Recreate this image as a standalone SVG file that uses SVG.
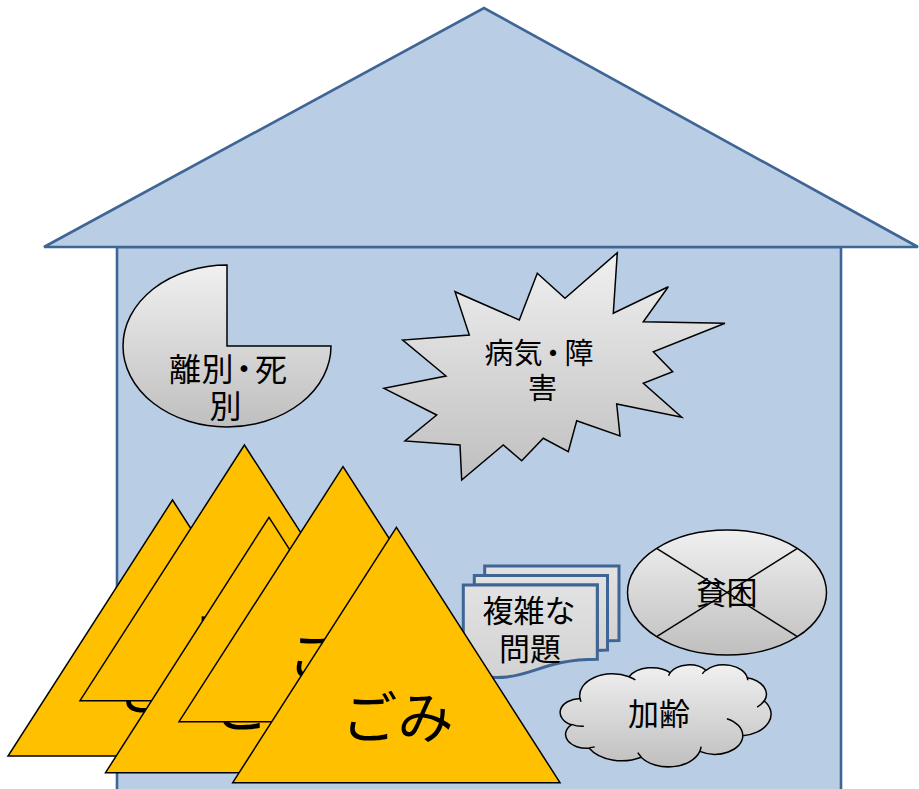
<svg xmlns="http://www.w3.org/2000/svg" width="919" height="789" viewBox="0 0 919 789">
<style>
.house{fill:#b9cde5;stroke:#3f6595;stroke-width:2.6;stroke-linejoin:miter}
.shape{fill:url(#gray);stroke:#000;stroke-width:1.5;stroke-linejoin:miter}
.doc{fill:url(#docgray);stroke:#3f6595;stroke-width:3;stroke-linejoin:miter}
.tri{fill:#ffc000;stroke:#000;stroke-width:1.5;stroke-linejoin:miter}
.lbl{font-family:"Noto Sans CJK JP","Noto Sans CJK SC",sans-serif;fill:#000;text-anchor:middle}
.t29{font-size:29px}
.t32{font-size:32px}
.t31{font-size:31px}
.t56{font-size:56px}
.ns{vector-effect:non-scaling-stroke}
</style>
<defs>
<linearGradient id="gray" x1="0" y1="0" x2="0" y2="1">
<stop offset="0" stop-color="#f0f0f0"/>
<stop offset="1" stop-color="#bfbfbf"/>
</linearGradient>
<linearGradient id="docgray" x1="0" y1="0" x2="0" y2="1">
<stop offset="0" stop-color="#e2e2e2"/>
<stop offset="1" stop-color="#d2d2d2"/>
</linearGradient>
</defs>

<g id="house">
<rect class="house" x="117" y="247" width="724" height="560"/>
<polygon class="house" points="44,247 484,8 918,247"/>
</g>

<g id="node-rikon">
<path class="shape" d="M227,346 L331,346 A104,81 0 1 1 227,265 Z"/>
<text class="lbl t32" x="228" y="381" dx="0 0.5 -5.5 -5">離別・死</text>
<text class="lbl t32" x="225.5" y="418">別</text>
</g>

<g id="node-byoki">
<polygon class="shape" points="617.3,252.7 613.3,313.3 668.3,286.7 643.3,321.7 725,323.3 653.3,351.7 672.7,371.7 643.3,383.3 681.7,417.3 616.7,404 620,436 576.7,420.7 568.3,451.7 543.3,438.3 521.7,460.7 503.3,445 461.7,480 460,445 405,441 436.7,415 384,388.3 446,376 402.7,340 469.3,335 455,291.7 519.3,320 537.3,273.3 565,298.3"/>
<text class="lbl t29" x="539" y="363.5" dx="0 0 -4 -3">病気・障</text>
<text class="lbl t29" x="542.5" y="399">害</text>
</g>

<g id="node-fukuzatsu">
<path class="doc" d="M484.7,575.4 L484.7,566 L619,566 L619,640.4 C613.2,640.4 607.5,640.8 607.5,640.8 L607.5,575.4 Z"/>
<path class="doc" d="M474.3,585 L474.3,575.4 L607.5,575.4 L607.5,650 C602.4,650 597.3,650.6 597.3,650.6 L597.3,585 Z"/>
<path class="doc" d="M463.3,673.5 C530.3,687.7 530.3,659.2 597.3,659.2 L597.3,585 L463.3,585 Z"/>
<text class="lbl t31" x="529" y="622">複雑な</text>
<text class="lbl t31" x="530" y="659.5">問題</text>
</g>

<g id="node-hinkon">
<ellipse class="shape" cx="727" cy="592.5" rx="99.5" ry="62.5"/>
<line x1="656.6" y1="548.3" x2="797.4" y2="636.7" stroke="#000" stroke-width="1.5"/>
<line x1="797.4" y1="548.3" x2="656.6" y2="636.7" stroke="#000" stroke-width="1.5"/>
<text class="lbl t31" x="726.5" y="603.5">貧困</text>
</g>

<g id="node-karei">
<g transform="translate(561,664.5) scale(0.004861,0.002361)">
<path class="shape ns" d="M3900,14370 A6753,9190 0 0 1 14006,5201 A5333,7267 0 0 1 22457,3431 A4365,5945 0 0 1 29833,2478 A4857,6595 0 0 1 38318,5572 A5333,7273 0 0 1 41818,15458 A6775,9220 0 0 1 37404,30201 A5785,7867 0 0 1 28555,36811 A6752,9215 0 0 1 16480,39264 A7720,10543 0 0 1 5803,35470 A4360,5918 0 0 1 2113,25546 A4345,5945 0 0 1 3900,14370 Z"/>
<path class="ns" fill="none" stroke="#000" stroke-width="1.5" d="M4693,26177 A4345,5945 0 0 1 2160,25381 M6928,34899 A4360,5918 0 0 1 5819,35281 M16478,39090 A6752,9215 0 0 1 15810,37348 M28827,34751 A6752,9215 0 0 1 28560,36661 M34129,22954 A5785,7867 0 0 1 37380,30089 M41798,15354 A5333,7273 0 0 1 40350,18029 M38324,5426 A4857,6595 0 0 1 38400,6690 M29078,3952 A4857,6595 0 0 1 29821,2339 M22141,4720 A4365,5945 0 0 1 22500,3332 M14000,5192 A6753,9190 0 0 1 15298,6538 M4127,15789 A6753,9190 0 0 1 3900,14371"/>
</g>
<text class="lbl t31" x="659" y="724.5">加齢</text>
</g>

<g id="node-gomi1">
<polygon class="tri" points="172.5,500 8,756 337,756"/>
<text class="lbl t56" x="173.5" y="710">ごみ</text>
</g>
<g id="node-gomi2">
<polygon class="tri" points="244.4,445 80,700.7 408.8,700.7"/>
<text class="lbl t56" x="245.4" y="655">ごみ</text>
</g>
<g id="node-gomi3">
<polygon class="tri" points="269,517.3 105.5,772.7 432.5,772.7"/>
<text class="lbl t56" x="270" y="727">ごみ</text>
</g>
<g id="node-gomi4">
<polygon class="tri" points="343,466.7 179,721.7 507,721.7"/>
<text class="lbl t56" x="344" y="676.5">ごみ</text>
</g>
<g id="node-gomi5">
<polygon class="tri" points="396.4,527.3 232.7,782.7 560,782.7"/>
<text class="lbl t56" x="397.5" y="737.5">ごみ</text>
</g>

<g id="connectors"/>
</svg>
